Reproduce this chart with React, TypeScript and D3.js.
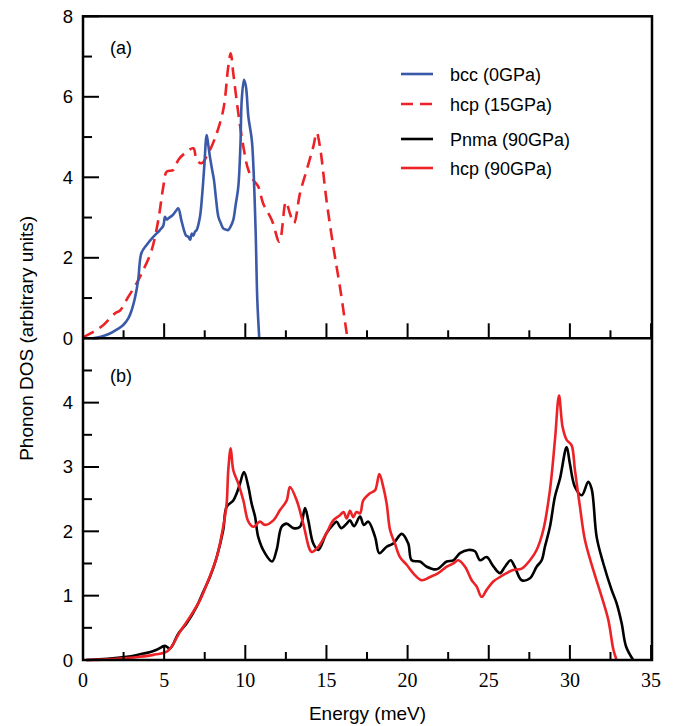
import React from "react";
import * as d3 from "d3";

// ---- Data (Energy in meV, DOS in arbitrary units) ----
const bccX = [0.6, 1.2, 1.66, 2.1, 2.48, 2.8, 3.0, 3.2, 3.4, 3.6, 3.92, 4.33, 4.74, 4.95, 5.05, 5.15, 5.26, 5.5, 5.7, 5.87, 6.05, 6.22, 6.35, 6.49, 6.6, 6.7, 6.8, 6.9, 7.0, 7.2, 7.35, 7.47, 7.62, 7.72, 7.82, 7.95, 8.07, 8.2, 8.34, 8.5, 8.64, 8.8, 8.95, 9.1, 9.26, 9.4, 9.57, 9.7, 9.78, 9.92, 10.04, 10.19, 10.4, 10.5, 10.64, 10.74, 10.86];
const bccY = [0.0, 0.05, 0.12, 0.22, 0.33, 0.5, 0.7, 1.0, 1.45, 2.12, 2.32, 2.52, 2.69, 2.8, 3.02, 2.95, 2.98, 3.05, 3.15, 3.23, 2.95, 2.69, 2.55, 2.52, 2.45, 2.6, 2.55, 2.65, 2.69, 3.0, 3.6, 4.26, 5.05, 4.8, 4.51, 4.2, 3.93, 3.45, 3.02, 2.85, 2.73, 2.7, 2.69, 2.78, 2.94, 3.3, 3.77, 4.8, 5.92, 6.42, 6.25, 5.5, 4.93, 4.26, 2.61, 0.95, 0.0];

const hcp15X = [0.0, 0.64, 1.26, 1.97, 2.28, 2.79, 3.31, 3.72, 4.23, 4.64, 4.95, 5.16, 5.57, 5.87, 6.28, 6.8, 7.0, 7.31, 7.72, 8.13, 8.64, 8.95, 9.1, 9.26, 9.57, 9.88, 10.19, 10.5, 10.8, 11.1, 11.63, 12.1, 12.5, 12.75, 13.0, 13.37, 13.78, 14.19, 14.4, 14.6, 15.0, 15.42, 15.83, 16.25, 16.3];
const hcp15Y = [0.03, 0.16, 0.33, 0.62, 0.69, 1.03, 1.37, 1.7, 2.19, 2.94, 3.77, 4.14, 4.18, 4.43, 4.6, 4.72, 4.43, 4.35, 4.6, 4.97, 5.67, 6.75, 7.08, 6.58, 5.59, 4.76, 4.18, 3.93, 3.77, 3.35, 2.94, 2.4, 3.39, 3.1, 2.86, 3.6, 4.18, 4.76, 5.11, 4.76, 3.44, 2.28, 1.28, 0.12, 0.0];

const pnmaX = [0.2, 1.5, 2.69, 3.2, 3.72, 4.1, 4.54, 5.05, 5.36, 5.87, 6.39, 7.0, 7.41, 7.82, 8.24, 8.64, 8.85, 9.26, 9.47, 9.67, 9.92, 10.19, 10.39, 10.6, 10.8, 11.21, 11.65, 11.93, 12.24, 12.55, 12.96, 13.37, 13.68, 13.88, 14.19, 14.5, 15.0, 15.4, 15.63, 15.9, 16.25, 16.45, 16.7, 17.07, 17.3, 17.58, 18.0, 18.26, 18.71, 19.12, 19.64, 20.04, 20.25, 20.76, 21.18, 21.79, 22.41, 22.82, 23.23, 23.74, 24.15, 24.46, 24.87, 25.3, 25.69, 26.0, 26.35, 26.6, 27.03, 27.54, 27.95, 28.26, 28.46, 28.77, 29.08, 29.39, 29.8, 30.0, 30.31, 30.73, 31.13, 31.34, 31.65, 32.06, 32.57, 32.88, 33.19, 33.46, 33.9];
const pnmaY = [0.0, 0.02, 0.05, 0.07, 0.1, 0.12, 0.16, 0.22, 0.18, 0.41, 0.57, 0.83, 1.06, 1.29, 1.6, 2.02, 2.38, 2.48, 2.59, 2.74, 2.92, 2.69, 2.43, 2.23, 1.91, 1.66, 1.53, 1.71, 2.07, 2.12, 2.05, 2.07, 2.36, 2.17, 1.81, 1.71, 1.97, 2.1, 2.15, 2.05, 2.12, 2.17, 2.08, 2.23, 2.1, 2.15, 1.91, 1.66, 1.76, 1.81, 1.96, 1.81, 1.55, 1.53, 1.45, 1.41, 1.53, 1.55, 1.66, 1.71, 1.69, 1.55, 1.6, 1.45, 1.35, 1.45, 1.55, 1.45, 1.24, 1.27, 1.45, 1.55, 1.76, 2.07, 2.54, 2.82, 3.31, 3.05, 2.69, 2.56, 2.77, 2.66, 1.91, 1.5, 1.09, 0.88, 0.57, 0.21, 0.0];

const hcp90X = [0.2, 1.5, 2.69, 3.5, 4.33, 5.16, 5.46, 5.98, 6.59, 7.21, 7.72, 8.24, 8.64, 8.85, 8.95, 9.1, 9.26, 9.57, 9.88, 10.19, 10.5, 10.9, 11.21, 11.73, 12.14, 12.55, 12.75, 13.17, 13.57, 14.09, 14.5, 15.0, 15.42, 15.83, 16.05, 16.25, 16.45, 16.65, 16.85, 17.07, 17.27, 17.68, 18.0, 18.26, 18.5, 18.71, 18.92, 19.22, 19.53, 19.94, 20.45, 20.87, 21.38, 21.89, 22.41, 22.82, 23.12, 23.54, 23.95, 24.26, 24.56, 24.87, 25.28, 25.69, 26.1, 26.51, 27.03, 27.54, 27.95, 28.36, 28.77, 29.08, 29.33, 29.55, 29.8, 30.1, 30.31, 30.62, 30.93, 31.44, 31.96, 32.37, 32.68, 32.88];
const hcp90Y = [0.0, 0.01, 0.03, 0.05, 0.08, 0.13, 0.21, 0.44, 0.67, 0.93, 1.24, 1.6, 2.07, 2.43, 2.95, 3.29, 2.95, 2.74, 2.48, 2.15, 2.07, 2.15, 2.1, 2.17, 2.33, 2.48, 2.69, 2.48, 2.12, 1.68, 1.76, 1.97, 2.17, 2.25, 2.3, 2.2, 2.32, 2.22, 2.3, 2.28, 2.48, 2.59, 2.64, 2.89, 2.69, 2.43, 2.02, 1.81, 1.6, 1.48, 1.32, 1.24, 1.29, 1.35, 1.45, 1.5, 1.55, 1.45, 1.24, 1.14, 0.98, 1.09, 1.22, 1.29, 1.35, 1.4, 1.42, 1.55, 1.71, 2.02, 2.64, 3.42, 4.11, 3.62, 3.42, 3.34, 2.95, 2.38, 1.86, 1.4, 0.98, 0.62, 0.16, 0.0];

const xTicks = [0, 5, 10, 15, 20, 25, 30, 35];
const xMinorTicks = [2.5, 7.5, 12.5, 17.5, 22.5, 27.5, 32.5];
const yTicksA = [0, 2, 4, 6, 8];
const yMinorA = [1, 3, 5, 7];
const yTicksB = [0, 1, 2, 3, 4];
const yMinorB = [0.5, 1.5, 2.5, 3.5, 4.5];

const legendLabels = ["bcc (0GPa)", "hcp (15GPa)", "Pnma (90GPa)", "hcp (90GPa)"];
const BLUE = "#3a59a8";
const RED = "#ec2227";

export default function App() {
  const W = 681, H = 726;
  const left = 83, right = 652;
  const topA = 16.3, botA = 338.3, botB = 660;
  const x = d3.scaleLinear().domain([0, 35]).range([left, left + 35 * 16.23]);
  const yA = d3.scaleLinear().domain([0, 8]).range([botA, topA]);
  const yB = d3.scaleLinear().domain([0, 5]).range([botB, botA]);

  const mk = (xs: number[], ys: number[], ys2: d3.ScaleLinear<number, number>) =>
    d3
      .line<number>()
      .curve(d3.curveCatmullRom.alpha(0.5))
      .x((_, i) => x(xs[i]))
      .y((_, i) => ys2(ys[i]))(xs.map((_, i) => i)) || "";

  const sans = "Liberation Sans, Arial, Helvetica, sans-serif";
  const serif = "Liberation Serif, Times New Roman, serif";

  const xTickMarks = (yb: number) => (
    <g>
      {xTicks.map((t) => (
        <line key={"M" + t} x1={x(t)} x2={x(t)} y1={yb} y2={yb - 15} stroke="#000" strokeWidth={2} />
      ))}
      {xMinorTicks.map((t) => (
        <line key={"m" + t} x1={x(t)} x2={x(t)} y1={yb} y2={yb - 8} stroke="#000" strokeWidth={2} />
      ))}
    </g>
  );

  const lw = 2.6;
  const legY = [74, 104, 139, 168];
  const legStyles = [
    { c: BLUE, d: undefined },
    { c: RED, d: "12,7" },
    { c: "#000", d: undefined },
    { c: RED, d: undefined },
  ];

  return (
    <svg width={W} height={H} style={{ position: "absolute", left: 0, top: 0, background: "#fff" }}>
      <rect width={W} height={H} fill="#fff" />
      {/* curves top */}
      <path d={mk(hcp15X, hcp15Y, yA)} fill="none" stroke={RED} strokeWidth={lw} strokeDasharray="12,7" />
      <path d={mk(bccX, bccY, yA)} fill="none" stroke={BLUE} strokeWidth={lw} />
      {/* curves bottom */}
      <path d={mk(pnmaX, pnmaY, yB)} fill="none" stroke="#000" strokeWidth={lw} />
      <path d={mk(hcp90X, hcp90Y, yB)} fill="none" stroke={RED} strokeWidth={lw} />

      {/* frames */}
      <rect x={left} y={topA} width={right - left} height={botB - topA} fill="none" stroke="#000" strokeWidth={2.5} />
      <line x1={left} x2={right} y1={botA} y2={botA} stroke="#000" strokeWidth={2.5} />
      {xTickMarks(botA)}
      {xTickMarks(botB)}

      {/* y ticks */}
      {yTicksA.map((t) => (
        <g key={"ya" + t}>
          <line x1={left} x2={left + 16} y1={yA(t)} y2={yA(t)} stroke="#000" strokeWidth={2} />
          <text x={left - 10} y={yA(t) + 6.5} textAnchor="end" fontFamily={sans} fontSize={18.5}>{t}</text>
        </g>
      ))}
      {yMinorA.map((t) => (
        <line key={"yam" + t} x1={left} x2={left + 9} y1={yA(t)} y2={yA(t)} stroke="#000" strokeWidth={2} />
      ))}
      {yTicksB.map((t) => (
        <g key={"yb" + t}>
          <line x1={left} x2={left + 16} y1={yB(t)} y2={yB(t)} stroke="#000" strokeWidth={2} />
          {t > 0 && (
            <text x={left - 10} y={yB(t) + 6.5} textAnchor="end" fontFamily={sans} fontSize={18.5}>{t}</text>
          )}
        </g>
      ))}
      <text x={left - 10} y={botB + 6.5} textAnchor="end" fontFamily={sans} fontSize={18.5}>0</text>
      {yMinorB.map((t) => (
        <line key={"ybm" + t} x1={left} x2={left + 9} y1={yB(t)} y2={yB(t)} stroke="#000" strokeWidth={2} />
      ))}

      {/* x tick labels */}
      {xTicks.map((t) => (
        <text key={"xl" + t} x={x(t)} y={687} textAnchor="middle" fontFamily={serif} fontSize={20}>{t}</text>
      ))}
      <text x={(left + right) / 2} y={720} textAnchor="middle" fontFamily={sans} fontSize={19}>Energy (meV)</text>
      <text transform={`translate(33,${botA}) rotate(-90)`} textAnchor="middle" fontFamily={sans} fontSize={19}>
        Phonon DOS (arbitrary units)
      </text>

      {/* panel labels */}
      <text x={110} y={54} fontFamily={sans} fontSize={18}>(a)</text>
      <text x={110} y={382} fontFamily={sans} fontSize={18}>(b)</text>

      {/* legend */}
      {legendLabels.map((l, i) => (
        <g key={l}>
          <line x1={401} x2={433} y1={legY[i]} y2={legY[i]} stroke={legStyles[i].c} strokeWidth={lw} strokeDasharray={legStyles[i].d} />
          <text x={450} y={legY[i] + 6.5} fontFamily={sans} fontSize={18}>{l}</text>
        </g>
      ))}
    </svg>
  );
}
